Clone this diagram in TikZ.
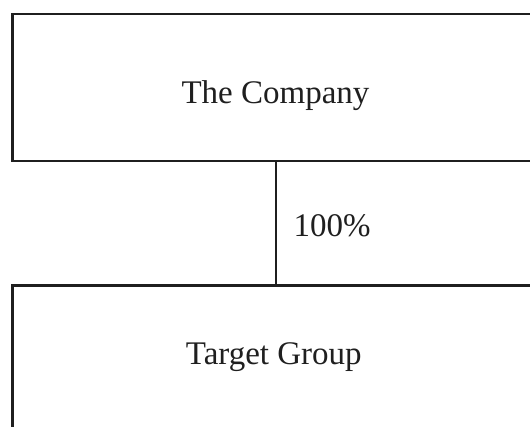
\documentclass[tikz,border=0pt]{standalone}
\usepackage{fontspec}
\setmainfont{Liberation Serif}
\usetikzlibrary{
	positioning		% relative placement of the labels
}

\begin{document}
\begin{tikzpicture}[
		entity/.style={
			rectangle,
			draw=black!88, line width=1.25pt,
			minimum width=263.5pt,
			minimum height=73.5pt
		},
		entitytext/.style={
			font=\fontsize{16.5}{20}\selectfont,
			text=black!88,
			inner sep=0pt,
			anchor=base
		},
		link/.style={
			draw=black!88,
			line width=1.25pt
		},
		share/.style={
			font=\fontsize{16.5}{20}\selectfont,
			text=black!88,
			inner sep=0pt,
			anchor=west,
			xshift=8.2pt,
			yshift=-1.4pt
		}]

	\useasboundingbox (0,0) rectangle (265pt,-213.5pt);

	%%% The two boxes, parent above and subsidiary below
	\node [entity] (company) at (138pt,-43.75pt) {};
	\node [entity] (target) at (138pt,-179.5pt) {};

	% Their names sit a little low in the boxes
	\node [entitytext] (companyname) at ([shift={(-0.25pt,-7.9pt)}]company.center) {The Company};
	\node [entitytext] (targetname) at ([shift={(-1.1pt,-2.65pt)}]target.center) {Target Group};

	% Ownership line with its share
	\path [link] (company) -- node [share] (ownership) {100\%} (target);

\end{tikzpicture}
\end{document}
